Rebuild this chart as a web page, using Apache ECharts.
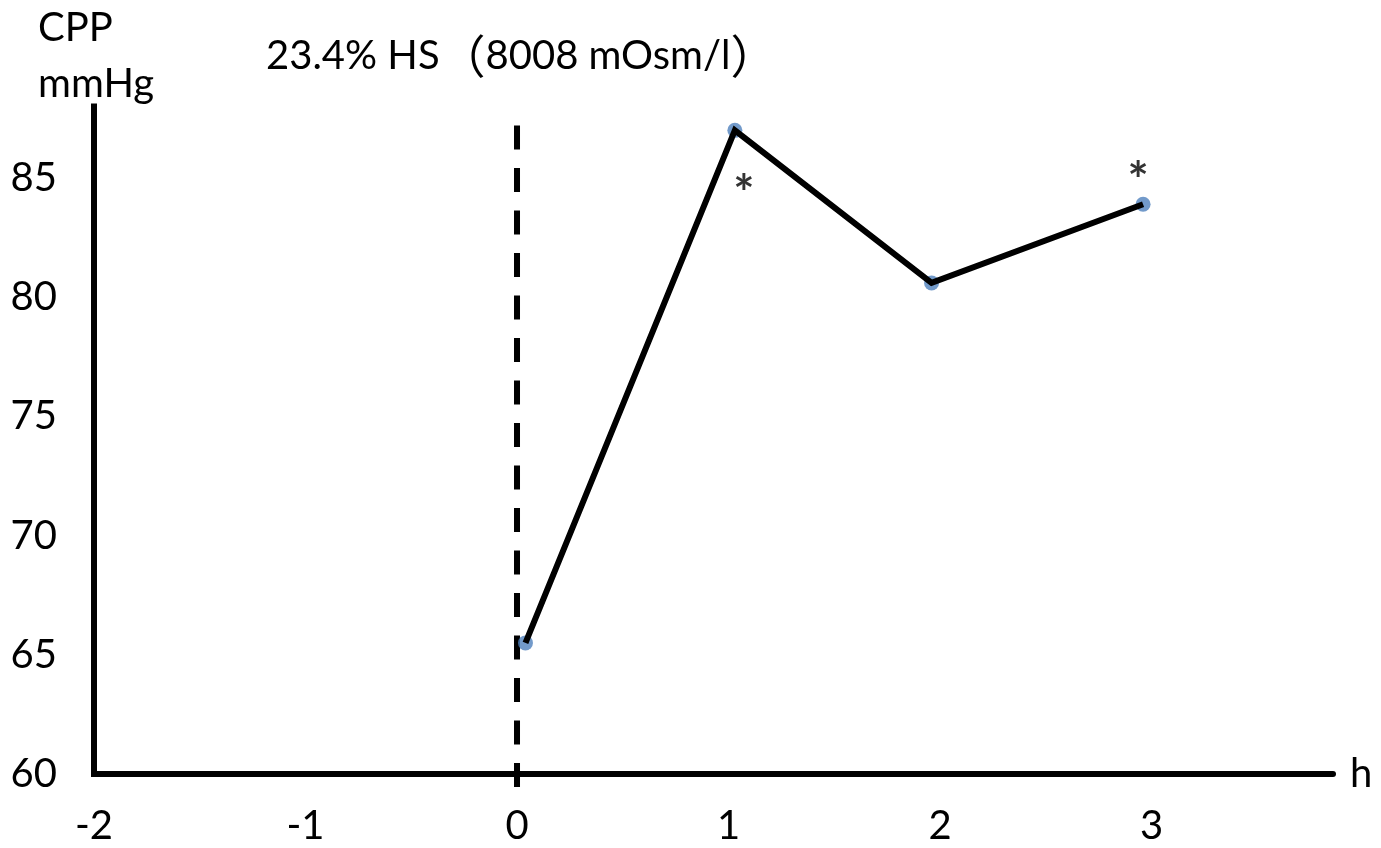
<!DOCTYPE html>
<html>
<head>
<meta charset="utf-8">
<title>CPP after 23.4% HS</title>
<script src="https://cdn.jsdelivr.net/npm/echarts@6/dist/echarts.min.js"></script>
<style>
  html, body { margin: 0; padding: 0; background: #ffffff; }
  #chart { width: 1381px; height: 848px; }
</style>
</head>
<body>
<div id="chart"></div>
<script>
// Cerebral perfusion pressure (mmHg) over time (h) after the hypertonic saline bolus
const hours = [0.04, 1.03, 1.96, 2.96];
const cpp = [65.5, 87.0, 80.6, 83.9];
const significance = ['', '*', '', '*'];

// Axis ticks
const xTicks = [-2, -1, 0, 1, 2, 3];
const yTicks = [60, 65, 70, 75, 80, 85];

// Bolus given at t = 0; dashed marker spans this CPP range
const bolusTime = 0;
const bolusSpan = [87.2, 59.3];

const FONT = 'Lato, "Noto Sans CJK SC", sans-serif';
const CJK_FONT = '"Noto Sans CJK SC", sans-serif';
const FONT_SIZE = 40;

// where the asterisk sits relative to its point
const starOffsets = { 1: [9, 65], 3: [-5, -22] };

const points = hours.map((h, i) => {
  const item = { value: [h, cpp[i]] };
  if (significance[i]) {
    item.label = {
      show: true,
      formatter: significance[i],
      position: 'inside',
      offset: starOffsets[i] || [0, -30],
      color: '#000',
      fontFamily: FONT,
      fontWeight: 'bold',
      fontSize: 50
    };
  }
  return item;
});

const chart = echarts.init(document.getElementById('chart'), null, { renderer: 'canvas' });

chart.setOption({
  backgroundColor: '#ffffff',
  animation: false,
  grid: { left: 94, right: 48, top: 106.5, bottom: 74, containLabel: false },
  xAxis: {
    type: 'value',
    min: xTicks[0],
    max: 3.858,
    interval: 1,
    name: 'h',
    nameLocation: 'end',
    nameGap: 17,
    nameTextStyle: {
      color: '#000', fontFamily: FONT, fontSize: FONT_SIZE,
      align: 'left', verticalAlign: 'middle', padding: [10, 0, 0, 0]
    },
    axisLine: { show: true, onZero: false, lineStyle: { color: '#000', width: 6 } },
    axisTick: { show: false },
    splitLine: { show: false },
    axisLabel: {
      color: '#000', fontFamily: FONT, fontSize: FONT_SIZE, margin: 32,
      showMaxLabel: false,
      formatter: v => (xTicks.indexOf(v) >= 0 ? String(v) : '')
    }
  },
  yAxis: {
    type: 'value',
    min: yTicks[0],
    max: 88,
    interval: 5,
    axisLine: { show: true, onZero: false, lineStyle: { color: '#000', width: 6, cap: 'square' } },
    axisTick: { show: false },
    splitLine: { show: false },
    axisLabel: {
      color: '#000', fontFamily: FONT, fontSize: FONT_SIZE, margin: 37,
      showMaxLabel: false,
      formatter: v => (yTicks.indexOf(v) >= 0 ? String(v) : '')
    }
  },
  graphic: [
    {
      type: 'text', left: 38, top: 8,
      style: { text: 'CPP', fill: '#000', font: FONT_SIZE + 'px ' + FONT }
    },
    {
      type: 'text', left: 38, top: 64,
      style: { text: 'mmHg', fill: '#000', font: FONT_SIZE + 'px ' + FONT }
    },
    {
      type: 'text', left: 266, top: 33,
      style: {
        text: '{t|23.4% HS}{p|（}{t|8008 mOsm/l}{p|）}',
        fill: '#000',
        rich: {
          t: { fontFamily: FONT, fontSize: FONT_SIZE, fill: '#000' },
          p: { fontFamily: CJK_FONT, fontSize: 46, fill: '#000' }
        }
      }
    }
  ],
  series: [
    {
      name: 'bolus',
      type: 'line',
      data: bolusSpan.map(v => [bolusTime, v]),
      showSymbol: false,
      clip: false,
      silent: true,
      z: 1,
      lineStyle: { color: '#000', width: 6, type: [24, 18.5], cap: 'butt' }
    },
    {
      name: 'CPP points',
      type: 'scatter',
      data: points,
      symbol: 'circle',
      symbolSize: 15,
      itemStyle: { color: '#4F81BD' },
      z: 2
    },
    {
      name: 'CPP',
      type: 'line',
      data: hours.map((h, i) => [h, cpp[i]]),
      showSymbol: false,
      z: 3,
      lineStyle: { color: '#000', width: 6, join: 'miter', cap: 'butt' }
    }
  ]
});
</script>
</body>
</html>
